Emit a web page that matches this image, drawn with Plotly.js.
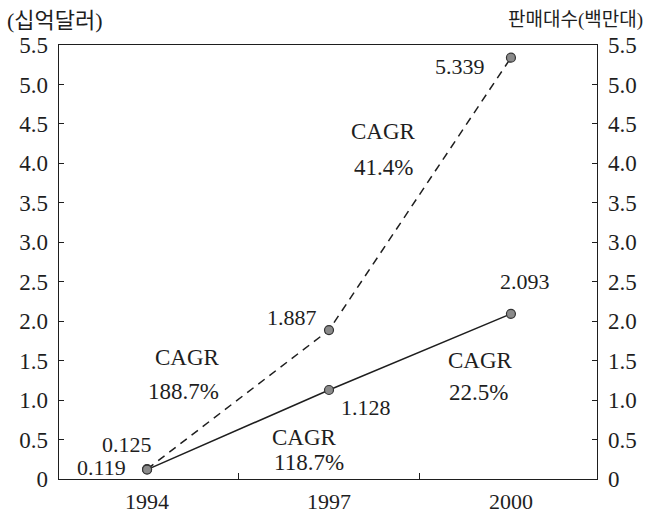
<!DOCTYPE html>
<html>
<head>
<meta charset="utf-8">
<script src="https://cdn.plot.ly/plotly-3.0.1.min.js"></script>
<style>html,body{margin:0;padding:0;background:#fff;}#chart{width:650px;height:514px;}</style>
</head>
<body>
<div id="chart"></div>
<script>
// ---- data ----
const years = ['1994', '1997', '2000'];
const salesValue = [0.125, 1.887, 5.339];   // 십억달러 (dashed)
const unitSales = [0.119, 1.128, 2.093];    // 판매대수(백만대) (solid)
const yTickVals = [0, 0.5, 1, 1.5, 2, 2.5, 3, 3.5, 4, 4.5, 5, 5.5];
const yTickText = ['0', '0.5', '1.0', '1.5', '2.0', '2.5', '3.0', '3.5', '4.0', '4.5', '5.0', '5.5'];
const leftTitle = '(십억달러)';
const rightTitle = '판매대수(백만대)';
const cagrLabels = ['188.7%', '118.7%', '22.5%', '41.4%'];

const FONT = 'Liberation Serif, Noto Sans CJK KR, serif';
const INK = '#1e1e1e';

const marker = {size: 9, color: '#8a8a8a', line: {color: '#333', width: 1.2}};

const traces = [
  {x: years, y: salesValue, type: 'scatter', mode: 'lines+markers',
   line: {color: INK, width: 1.5, dash: '8px,6px'}, marker: marker, yaxis: 'y', hoverinfo: 'skip'},
  {x: years, y: unitSales, type: 'scatter', mode: 'lines+markers',
   line: {color: INK, width: 1.5}, marker: marker, yaxis: 'y2', hoverinfo: 'skip'}
];

const ann = [];
function txt(o) {
  ann.push(Object.assign({showarrow: false, font: {family: FONT, size: 23, color: INK},
    xanchor: 'center', yanchor: 'middle'}, o));
}
// value labels tied to points (x = category index)
const salesShift = [[-20, 25], [-37, 13], [-51, -9]];
const unitShift = [[-46, 2], [37, -18], [14, 32]];
salesValue.forEach((v, i) => txt({x: i, y: v, xref: 'x', yref: 'y', text: v.toFixed(3),
  xshift: salesShift[i][0], yshift: salesShift[i][1], font: {family: FONT, size: 22, color: INK}}));
unitSales.forEach((v, i) => txt({x: i, y: v, xref: 'x', yref: 'y2', text: v.toFixed(3),
  xshift: unitShift[i][0], yshift: unitShift[i][1], font: {family: FONT, size: 22, color: INK}}));
// CAGR labels
const cagrPos = [[0.22, 1.546, 0.198, 1.115], [0.868, 0.52, 0.89, 0.215],
                 [1.83, 1.508, 1.819, 1.09], [1.297, 4.398, 1.297, 3.942]];
cagrLabels.forEach((c, i) => {
  const p = cagrPos[i];
  txt({x: p[0], y: p[1], xref: 'x', yref: 'y', text: 'CAGR'});
  txt({x: p[2], y: p[3], xref: 'x', yref: 'y', text: c});
});
// axis titles
txt({x: -0.1004, y: 1.0576, xref: 'paper', yref: 'paper', text: leftTitle, xanchor: 'left',
  font: {family: FONT, size: 22, color: INK}});
txt({x: 1.089, y: 1.0576, xref: 'paper', yref: 'paper', text: rightTitle, xanchor: 'right',
  font: {family: FONT, size: 19, color: INK}});

const yCommon = {
  range: [0, 5.5], tickmode: 'array', tickvals: yTickVals, ticktext: yTickText,
  ticks: 'inside', ticklen: 5, tickcolor: INK, showline: true, linecolor: INK, linewidth: 1.3,
  showgrid: false, zeroline: false, ticklabelstandoff: 5,
  tickfont: {family: FONT, size: 23, color: INK}, fixedrange: true
};

const layout = {
  width: 650, height: 514,
  margin: {l: 59, r: 53, t: 45, b: 35},
  paper_bgcolor: '#fff', plot_bgcolor: '#fff',
  showlegend: false,
  xaxis: {
    type: 'category', range: [-0.484, 2.473], tickson: 'boundaries',
    ticks: 'inside', ticklen: 6, tickcolor: INK, showline: true, linecolor: INK, linewidth: 1.3,
    mirror: true, showgrid: false, zeroline: false, ticklabelstandoff: 2,
    tickfont: {family: FONT, size: 22, color: INK}
  },
  yaxis: Object.assign({}, yCommon, {side: 'left'}),
  yaxis2: Object.assign({}, yCommon, {side: 'right', overlaying: 'y'}),
  annotations: ann
};

Plotly.newPlot('chart', traces, layout, {staticPlot: true});
</script>
</body>
</html>
